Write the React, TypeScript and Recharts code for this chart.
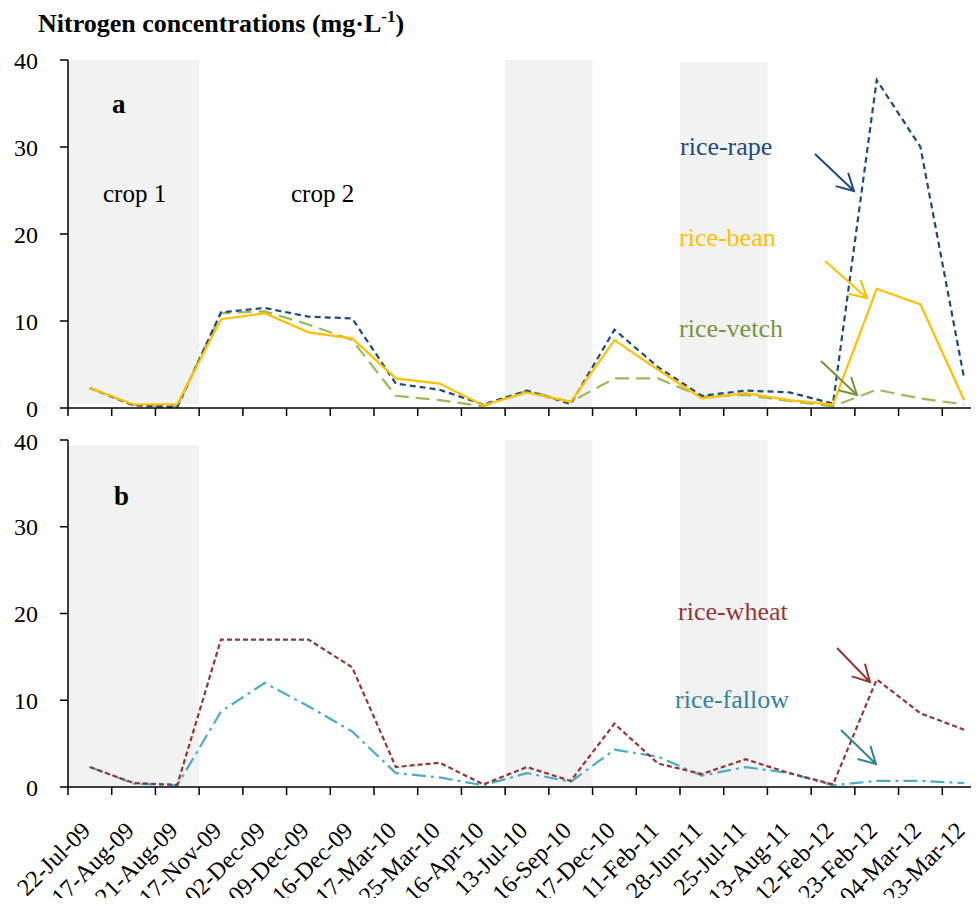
import { ComposedChart, Line, XAxis, YAxis, ReferenceArea } from 'recharts'

const dates = [
  '22-Jul-09', '17-Aug-09', '21-Aug-09', '17-Nov-09', '02-Dec-09', '09-Dec-09', '16-Dec-09',
  '17-Mar-10', '25-Mar-10', '16-Apr-10', '13-Jul-10', '16-Sep-10', '17-Dec-10', '11-Feb-11',
  '28-Jun-11', '25-Jul-11', '13-Aug-11', '12-Feb-12', '23-Feb-12', '04-Mar-12', '23-Mar-12',
]

// panel a
const riceRape = [2.3, 0.3, 0.1, 11.0, 11.5, 10.5, 10.3, 2.8, 2.1, 0.4, 2.0, 0.45, 9.0, 4.7, 1.4, 2.0, 1.8, 0.5, 37.7, 30.0, 3.4]
const riceBean = [2.3, 0.4, 0.45, 10.2, 10.9, 8.7, 8.0, 3.4, 2.8, 0.3, 1.8, 0.7, 7.8, 4.4, 1.1, 1.7, 0.9, 0.4, 13.7, 11.9, 0.9]
const riceVetch = [2.3, 0.35, 0.2, 10.9, 11.1, 9.6, 7.8, 1.4, 0.9, 0.2, 2.0, 0.7, 3.4, 3.4, 1.3, 1.5, 0.8, 0.2, 2.1, 1.1, 0.4]

// panel b
const riceWheat = [2.3, 0.45, 0.25, 17.0, 17.0, 17.0, 13.8, 2.3, 2.8, 0.3, 2.3, 0.7, 7.3, 2.7, 1.5, 3.2, 1.6, 0.3, 12.4, 8.5, 6.6]
const riceFallow = [2.3, 0.4, 0.2, 8.7, 12.0, 9.3, 6.4, 1.6, 1.1, 0.2, 1.6, 0.6, 4.3, 3.5, 1.3, 2.3, 1.6, 0.2, 0.7, 0.7, 0.45]

const yTicks = [0, 10, 20, 30, 40]

// grey crop periods (first and last date of each)
const shaded = [
  [dates[0], dates[2]],
  [dates[10], dates[11]],
  [dates[14], dates[15]],
]

const dataA = dates.map((d, i) => ({ date: d, rape: riceRape[i], bean: riceBean[i], vetch: riceVetch[i] }))
const dataB = dates.map((d, i) => ({ date: d, wheat: riceWheat[i], fallow: riceFallow[i] }))

const SERIF = '"Liberation Serif", "Times New Roman", serif'
const W = 1000
const MARGIN_L = 10
const MARGIN_R = 22
const YW = 50
const HALF_BAND = (W - MARGIN_L - MARGIN_R - YW) / dates.length / 2

const DateTick = ({ x, y, payload, showLabel }: any) => {
  const off = payload?.offset || HALF_BAND
  return (
    <g>
      <line x1={x - off} x2={x - off} y1={y} y2={y + 8} stroke="#000" strokeWidth={1.5} />
      {showLabel && (
        <text
          transform={`translate(${x + 2},${y + 45}) rotate(-45)`}
          textAnchor="end"
          fontSize={24}
          fontFamily={SERIF}
          fill="#000"
        >
          {payload.value}
        </text>
      )}
    </g>
  )
}

const yAxisProps = {
  type: 'number' as const,
  domain: [0, 40],
  ticks: yTicks,
  width: YW,
  tickSize: 8,
  tickMargin: 22,
  axisLine: { stroke: '#000', strokeWidth: 1.5 },
  tickLine: { stroke: '#000', strokeWidth: 1.5 },
  tick: { fontSize: 24, fontFamily: SERIF, fill: '#000' },
}

const Arrow = ({ from, to, color }: { from: number[]; to: number[]; color: string }) => {
  const ang = Math.atan2(to[1] - from[1], to[0] - from[0])
  const len = 19
  const spread = 0.5
  const b1 = [to[0] - len * Math.cos(ang - spread), to[1] - len * Math.sin(ang - spread)]
  const b2 = [to[0] - len * Math.cos(ang + spread), to[1] - len * Math.sin(ang + spread)]
  return (
    <path
      d={`M${from[0]},${from[1]} L${to[0]},${to[1]} M${b1[0]},${b1[1]} L${to[0]},${to[1]} L${b2[0]},${b2[1]}`}
      stroke={color}
      strokeWidth={2}
      fill="none"
    />
  )
}

export default function App() {
  return (
    <div style={{ position: 'relative', width: 971, height: 898, overflow: 'hidden', background: '#fff' }}>
      <div style={{ position: 'absolute', left: 0, top: 0 }}>
        <ComposedChart width={W} height={420} data={dataA} margin={{ top: 52, right: MARGIN_R, left: MARGIN_L, bottom: 8 }}>
          {shaded.map(([a, b], i) => (
            <ReferenceArea key={i} x1={a} x2={b} y1={i === 0 ? 0.5 : 0} y2={i === 2 ? 39.8 : 40} fill="#f2f2f2" fillOpacity={1} stroke="none" />
          ))}
          <XAxis
            dataKey="date"
            scale="band"
            interval={0}
            height={12}
            tickSize={0}
            tickMargin={0}
            tickLine={false}
            axisLine={{ stroke: '#000', strokeWidth: 1.5 }}
            tick={<DateTick showLabel={false} />}
          />
          <YAxis {...yAxisProps} />
          <Line type="linear" dataKey="vetch" stroke="#9bbb59" strokeWidth={2.2} strokeDasharray="14 7" dot={false} isAnimationActive={false} />
          <Line type="linear" dataKey="rape" stroke="#1f497d" strokeWidth={2.2} strokeDasharray="6 4" dot={false} isAnimationActive={false} />
          <Line type="linear" dataKey="bean" stroke="#ffc000" strokeWidth={2.2} dot={false} isAnimationActive={false} />
        </ComposedChart>
      </div>
      <div style={{ position: 'absolute', left: 0, top: 420 }}>
        <ComposedChart width={W} height={470} data={dataB} margin={{ top: 12, right: MARGIN_R, left: MARGIN_L, bottom: 0 }}>
          {shaded.map(([a, b], i) => (
            <ReferenceArea key={i} x1={a} x2={b} y1={0} y2={i === 0 ? 39.4 : 40} fill="#f2f2f2" fillOpacity={1} stroke="none" />
          ))}
          <XAxis
            dataKey="date"
            scale="band"
            interval={0}
            height={111}
            tickSize={0}
            tickMargin={0}
            tickLine={false}
            axisLine={{ stroke: '#000', strokeWidth: 1.5 }}
            tick={<DateTick showLabel />}
          />
          <YAxis {...yAxisProps} />
          <Line type="linear" dataKey="fallow" stroke="#4bacc6" strokeWidth={2.2} strokeDasharray="14 5 3 5" dot={false} isAnimationActive={false} />
          <Line type="linear" dataKey="wheat" stroke="#943634" strokeWidth={2.2} strokeDasharray="5 3" dot={false} isAnimationActive={false} />
        </ComposedChart>
      </div>
      <svg width={971} height={898} style={{ position: 'absolute', left: 0, top: 0, pointerEvents: 'none' }}>
        <g transform="translate(-8,-8)" fontFamily={SERIF}>
          <text x={38} y={32} fontSize={26} fontWeight="bold" fill="#000">
            Nitrogen concentrations (mg·L
            <tspan fontSize={17} dy={-10}>-1</tspan>
            <tspan dy={10}>)</tspan>
          </text>
          <text x={112} y={113} fontSize={27} fontWeight="bold">a</text>
          <text x={103} y={202} fontSize={25}>crop 1</text>
          <text x={291} y={202} fontSize={25}>crop 2</text>
          <text x={680} y={155} fontSize={26} fill="#1f497d">rice-rape</text>
          <text x={679} y={246} fontSize={26} fill="#ffc000">rice-bean</text>
          <text x={679} y={337} fontSize={26} fill="#77933c">rice-vetch</text>
          <text x={114} y={505} fontSize={27} fontWeight="bold">b</text>
          <text x={678} y={620} fontSize={26} fill="#943634">rice-wheat</text>
          <text x={675} y={708} fontSize={26} fill="#31849b">rice-fallow</text>
          <Arrow from={[815, 154]} to={[854, 191]} color="#1f497d" />
          <Arrow from={[825, 261]} to={[867, 298]} color="#ffc000" />
          <Arrow from={[821, 361]} to={[857, 395]} color="#77933c" />
          <Arrow from={[837, 648]} to={[870, 682]} color="#943634" />
          <Arrow from={[841, 730]} to={[876, 764]} color="#31849b" />
        </g>
      </svg>
    </div>
  )
}
